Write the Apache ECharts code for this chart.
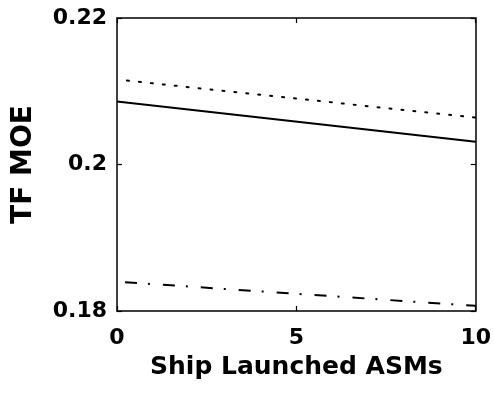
<!DOCTYPE html>
<html><head><meta charset="utf-8">
<script src="https://cdn.jsdelivr.net/npm/echarts@6/dist/echarts.min.js"></script>
<style>html,body{margin:0;padding:0;background:#fff}#c{width:494px;height:393px}</style>
</head><body><div id="c"></div>
<script>
const xValues = [0, 10];
const solidSeries = [0.2086, 0.2031];
const dottedSeries = [0.2116, 0.2064];
const dashDotSeries = [0.1840, 0.1807];
const xTicks = [0, 5, 10];
const yTicks = [0.18, 0.2, 0.22];
const xTitle = 'Ship Launched ASMs';
const yTitle = 'TF MOE';

const font = 'DejaVu Sans, sans-serif';
const chart = echarts.init(document.getElementById('c'), null, {renderer: 'canvas'});
const pairs = arr => xValues.map((x, i) => [x, arr[i]]);
const lineStyleFrame = {color: '#000', width: 1.5};
const fmtY = v => String(parseFloat(v.toFixed(2)));
const tick = {show: true, inside: true, length: 5, lineStyle: {color: '#000', width: 1.2}};
chart.setOption({
  animation: false,
  backgroundColor: '#fff',
  grid: {left: 117, right: 15, top: 18, bottom: 82, show: false},
  xAxis: [{
    type: 'value', min: 0, max: 10, interval: 5, position: 'bottom',
    name: xTitle, nameLocation: 'middle', nameGap: 44,
    nameTextStyle: {fontFamily: font, fontWeight: 'bold', fontSize: 25, color: '#000'},
    axisLine: {show: true, onZero: false, lineStyle: lineStyleFrame},
    axisTick: tick,
    axisLabel: {fontFamily: font, fontWeight: 'bold', fontSize: 22, color: '#000', margin: 16,
      formatter: v => xTicks.includes(v) ? String(v) : ''},
    splitLine: {show: false}
  }, {
    type: 'value', min: 0, max: 10, interval: 5, position: 'top',
    axisLine: {show: true, onZero: false, lineStyle: lineStyleFrame},
    axisTick: tick,
    axisLabel: {show: false}, splitLine: {show: false}
  }],
  yAxis: [{
    type: 'value', min: 0.18, max: 0.22, interval: 0.02, position: 'left',
    name: yTitle, nameLocation: 'middle', nameGap: 79, nameRotate: 90,
    nameTextStyle: {fontFamily: font, fontWeight: 'bold', fontSize: 28, color: '#000'},
    axisLine: {show: true, onZero: false, lineStyle: lineStyleFrame},
    axisTick: tick,
    axisLabel: {fontFamily: font, fontWeight: 'bold', fontSize: 22, color: '#000', margin: 10,
      formatter: v => fmtY(v)},
    splitLine: {show: false}
  }, {
    type: 'value', min: 0.18, max: 0.22, interval: 0.02, position: 'right',
    axisLine: {show: true, onZero: false, lineStyle: lineStyleFrame},
    axisTick: tick,
    axisLabel: {show: false}, splitLine: {show: false}
  }],
  series: [
    {type: 'line', data: pairs(solidSeries), showSymbol: false, symbol: 'none',
      lineStyle: {color: '#000', width: 2}},
    {type: 'line', data: pairs(dottedSeries), showSymbol: false, symbol: 'none',
      lineStyle: {color: '#000', width: 2, type: [2, 10], cap: 'round', dashOffset: -10}},
    {type: 'line', data: pairs(dashDotSeries), showSymbol: false, symbol: 'none',
      lineStyle: {color: '#000', width: 2, type: [12, 11, 2, 13], dashOffset: -8}}
  ]
});
</script></body></html>
